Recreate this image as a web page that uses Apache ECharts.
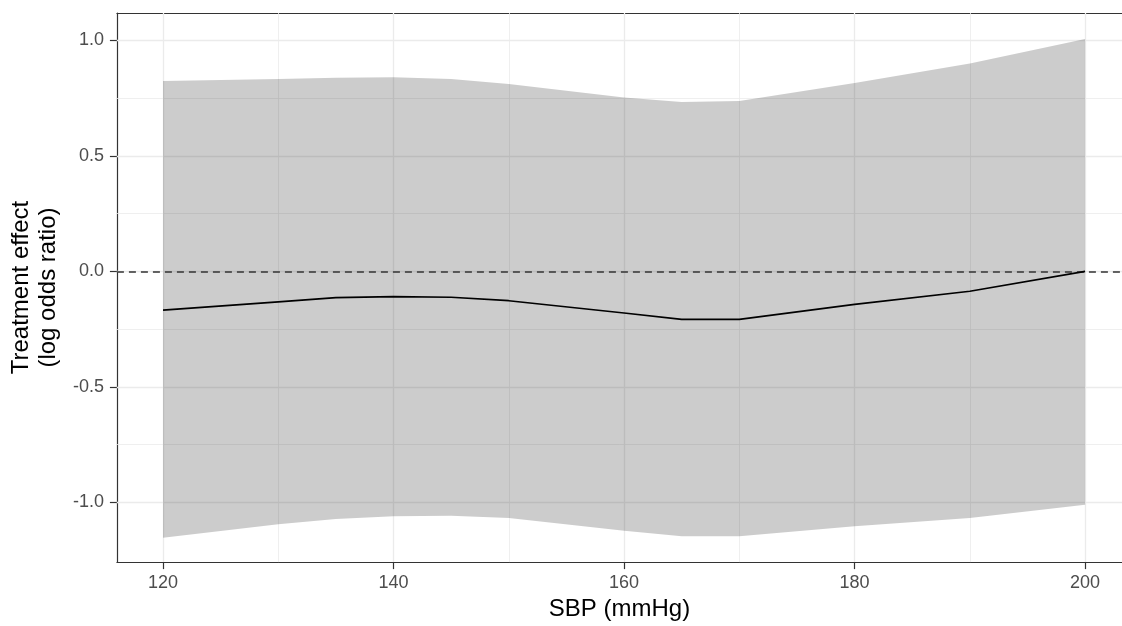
<!DOCTYPE html>
<html>
<head>
<meta charset="utf-8">
<script src="https://cdn.jsdelivr.net/npm/echarts@6/dist/echarts.min.js"></script>
<style>
html,body{margin:0;padding:0;background:#fff;}
#chart{width:1122px;height:626px;}
</style>
</head>
<body>
<div id="chart"></div>
<script>
// Data
const sbp      = [120, 130, 135, 140, 145, 150, 160, 165, 170, 180, 190, 200];
const upperCI  = [0.824, 0.832, 0.838, 0.840, 0.832, 0.811, 0.752, 0.733, 0.737, 0.815, 0.900, 1.006];
const lowerCI  = [-1.153, -1.094, -1.072, -1.060, -1.057, -1.067, -1.122, -1.146, -1.146, -1.103, -1.067, -1.010];
const estimate = [-0.168, -0.132, -0.114, -0.109, -0.112, -0.127, -0.180, -0.208, -0.208, -0.143, -0.086, 0.000];

const xTicks = [120, 140, 160, 180, 200];
const xMinor = [130, 150, 170, 190];
const yTicks = [-1.0, -0.5, 0.0, 0.5, 1.0];
const yMinor = [-0.75, -0.25, 0.25, 0.75];

const xTitle = 'SBP (mmHg)';
const yTitle = 'Treatment effect\n(log odds ratio)';

const FONT = '"Liberation Sans", Arial, Helvetica, sans-serif';
const X_MIN = 116, X_MAX = 203.2, Y_MIN = -1.258, Y_MAX = 1.118;

const chart = echarts.init(document.getElementById('chart'), null, {renderer: 'canvas'});

const majorStyle = {color: '#ebebeb', width: 1.3, type: 'solid'};
const minorStyle = {color: '#ebebeb', width: 0.8, type: 'solid'};
const gridLines = [].concat(
  xMinor.map(v => ({xAxis: v, lineStyle: minorStyle})),
  yMinor.map(v => ({yAxis: v, lineStyle: minorStyle})),
  xTicks.map(v => ({xAxis: v, lineStyle: majorStyle})),
  yTicks.map(v => ({yAxis: v, lineStyle: majorStyle}))
);

const axisLineStyle = {color: '#333333', width: 1.2};

const option = {
  animation: false,
  backgroundColor: '#ffffff',
  grid: {left: 113, right: 0, top: 13, bottom: 60, show: false},
  xAxis: [{
    type: 'value', min: X_MIN, max: X_MAX, position: 'bottom',
    splitLine: {show: false},
    axisLine: {show: true, onZero: false, lineStyle: axisLineStyle},
    axisTick: {show: true, customValues: xTicks, length: 7, lineStyle: {color: '#333333', width: 1.2}},
    axisLabel: {customValues: xTicks, margin: 12, color: '#4d4d4d', fontSize: 18, fontFamily: FONT,
      formatter: v => String(v)},
    name: xTitle, nameLocation: 'middle', nameGap: 34,
    nameTextStyle: {color: '#000', fontSize: 24, fontFamily: FONT}
  }, {
    type: 'value', min: X_MIN, max: X_MAX, position: 'top',
    splitLine: {show: false},
    axisLine: {show: true, onZero: false, lineStyle: axisLineStyle},
    axisTick: {show: false}, axisLabel: {show: false}
  }],
  yAxis: {
    type: 'value', min: Y_MIN, max: Y_MAX,
    splitLine: {show: false},
    axisLine: {show: true, onZero: false, lineStyle: axisLineStyle},
    axisTick: {show: true, customValues: yTicks, length: 7, lineStyle: {color: '#333333', width: 1.2}},
    axisLabel: {customValues: yTicks, margin: 13, color: '#4d4d4d', fontSize: 18, fontFamily: FONT,
      formatter: v => Number(v).toFixed(1)},
    name: yTitle, nameLocation: 'middle', nameGap: 48, nameRotate: 90,
    nameTextStyle: {color: '#000', fontSize: 24, fontFamily: FONT, lineHeight: 27, align: 'center'}
  },
  series: [
    {
      name: 'gridHolder', type: 'line', xAxisIndex: 0,
      data: sbp.map((x, i) => [x, lowerCI[i]]),
      symbol: 'none', lineStyle: {opacity: 0}, z: 1, silent: true,
      markLine: {silent: true, z: 1, symbol: ['none', 'none'], label: {show: false}, animation: false,
        data: gridLines}
    },
    {
      name: 'band', type: 'custom', coordinateSystem: 'cartesian2d', xAxisIndex: 0,
      data: [[sbp[0], lowerCI[0]]], encode: {x: 0, y: 1}, z: 3, silent: true,
      renderItem: function (params, api) {
        if (params.dataIndex !== 0) return null;
        const top = sbp.map((x, i) => api.coord([x, upperCI[i]]));
        const bottom = sbp.map((x, i) => api.coord([x, lowerCI[i]])).reverse();
        return {
          type: 'polygon',
          shape: {points: top.concat(bottom)},
          style: {fill: 'rgba(0,0,0,0.2)', stroke: null}
        };
      }
    },
    {
      name: 'estimate', type: 'line', xAxisIndex: 0,
      data: sbp.map((x, i) => [x, estimate[i]]),
      symbol: 'none', z: 6, silent: true,
      lineStyle: {color: '#000000', width: 1.7},
      markLine: {silent: true, z: 6, symbol: ['none', 'none'], label: {show: false}, animation: false,
        data: [{yAxis: 0, lineStyle: {color: '#333333', width: 1.6, type: [7, 5]}}]}
    }
  ]
};
chart.setOption(option);
</script>
</body>
</html>
